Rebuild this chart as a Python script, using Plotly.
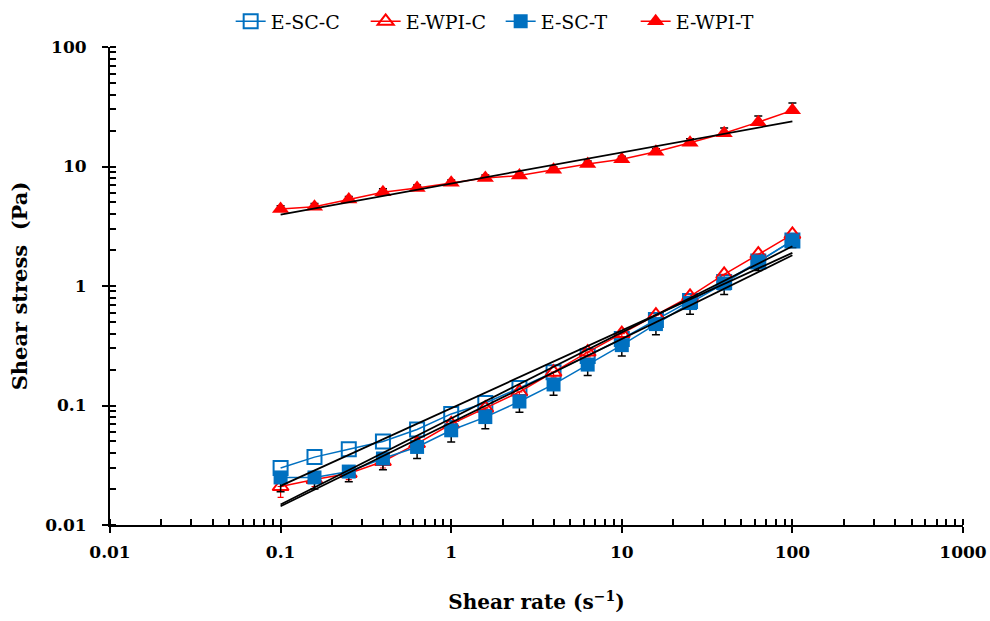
import plotly.graph_objects as go

shear_rate = [0.1, 0.158, 0.251, 0.398, 0.631, 1.0, 1.585, 2.512, 3.981, 6.31,
              10.0, 15.85, 25.12, 39.81, 63.1, 100.0]

e_sc_c = [0.030, 0.037, 0.043, 0.050, 0.063, 0.085, 0.105, 0.14, 0.19, 0.26,
          0.36, 0.52, 0.75, 1.08, 1.6, 2.4]
e_wpi_c = [0.021, 0.024, 0.027, 0.034, 0.048, 0.070, 0.095, 0.13, 0.19, 0.28,
           0.40, 0.57, 0.82, 1.25, 1.85, 2.7]
e_sc_t = [0.025, 0.025, 0.028, 0.036, 0.045, 0.062, 0.080, 0.108, 0.15, 0.22,
          0.32, 0.48, 0.72, 1.05, 1.6, 2.4]
e_wpi_t = [4.4, 4.6, 5.3, 6.1, 6.6, 7.3, 8.0, 8.4, 9.4, 10.5,
           11.5, 13.3, 15.8, 19.0, 23.5, 29.5]

e_sc_t_err = [0.006, 0.005, 0.005, 0.007, 0.009, 0.0125, 0.016, 0.02, 0.028, 0.042,
              0.06, 0.09, 0.14, 0.2, 0.25, 0.3]
e_wpi_c_err = [0.004, 0.003, 0.003, 0.004, 0.005, 0.007, 0.009, 0.012, 0.017, 0.025,
               0.035, 0.05, 0.07, 0.1, 0.15, 0.2]
e_wpi_t_err = [0.3, 0.3, 0.3, 0.4, 0.4, 0.4, 0.5, 0.5, 0.5, 0.6,
               0.7, 0.8, 1.3, 2.0, 3.0, 4.5]

# power-law fits (K, n) and their range
fit_names = ["E-SC-C fit", "E-WPI-C fit", "E-SC-T fit", "E-WPI-T fit"]
fit_K = [0.095, 0.078, 0.072, 7.2]
fit_n = [0.65, 0.72, 0.70, 0.26]
fit_range = [0.1, 100.0]

x_ticks = [0.01, 0.1, 1, 10, 100, 1000]
x_tick_labels = ["0.01", "0.1", "1", "10", "100", "1000"]
y_ticks = [0.01, 0.1, 1, 10, 100]
y_tick_labels = ["0.01", "0.1", "1", "10", "100"]

BLUE = "#0070C0"
RED = "#FF0000"
FONT = "DejaVu Serif"

fig = go.Figure()

fig.add_trace(go.Scatter(
    x=shear_rate, y=e_sc_c, name="E-SC-C", mode="lines+markers",
    line=dict(color=BLUE, width=1.5),
    marker=dict(symbol="square-open", size=14, color=BLUE, line=dict(width=2, color=BLUE)),
))
fig.add_trace(go.Scatter(
    x=shear_rate, y=e_wpi_c, name="E-WPI-C", mode="lines+markers",
    line=dict(color=RED, width=1.5),
    marker=dict(symbol="triangle-up-open", size=14, color=RED, line=dict(width=2, color=RED)),
    error_y=dict(type="data", symmetric=False, array=[0] * len(e_wpi_c_err),
                 arrayminus=e_wpi_c_err, color=RED, thickness=1.2, width=3),
))
fig.add_trace(go.Scatter(
    x=shear_rate, y=e_sc_t, name="E-SC-T", mode="lines+markers",
    line=dict(color=BLUE, width=1.5),
    marker=dict(symbol="square", size=14, color=BLUE, line=dict(width=0)),
    error_y=dict(type="data", symmetric=False, array=[0] * len(e_sc_t_err),
                 arrayminus=e_sc_t_err, color="black", thickness=1.5, width=4),
))
fig.add_trace(go.Scatter(
    x=shear_rate, y=e_wpi_t, name="E-WPI-T", mode="lines+markers",
    line=dict(color=RED, width=1.5),
    marker=dict(symbol="triangle-up", size=15, color=RED, line=dict(width=0)),
    error_y=dict(type="data", symmetric=False, array=e_wpi_t_err,
                 arrayminus=[0] * len(e_wpi_t_err), color="black", thickness=1.5, width=4),
))

for name, K, n in zip(fit_names, fit_K, fit_n):
    fig.add_trace(go.Scatter(
        x=fit_range, y=[K * xv ** n for xv in fit_range], name=name, mode="lines",
        line=dict(color="black", width=1.8), showlegend=False, hoverinfo="skip",
    ))

axis_common = dict(
    type="log", showgrid=False, zeroline=False,
    showline=True, linecolor="black", linewidth=2,
    ticks="outside", ticklen=6, tickwidth=2, tickcolor="black",
    minor=dict(ticks="inside", ticklen=6, tickwidth=1.5, tickcolor="black", dtick="D1", showgrid=False),
    tickfont=dict(family=FONT, size=17, color="black", weight="bold"),
)

fig.update_xaxes(
    **axis_common, range=[-2, 3], tickvals=x_ticks, ticktext=x_tick_labels,
    ticklabelstandoff=5,
    title=dict(text="Shear rate (s<sup>−1</sup>)", standoff=34,
               font=dict(family=FONT, size=20, color="black", weight="bold")),
)
fig.update_yaxes(
    **axis_common, range=[-2, 2], tickvals=y_ticks, ticktext=y_tick_labels,
    ticklabelstandoff=12,
    title=dict(text="Shear stress  (Pa)", standoff=12,
               font=dict(family=FONT, size=21, color="black", weight="bold")),
)

fig.update_layout(
    width=990, height=621,
    margin=dict(l=110, r=27, t=47, b=96, autoexpand=False),
    plot_bgcolor="white", paper_bgcolor="white",
    showlegend=True,
    legend=dict(orientation="h", xref="container", yref="container",
                x=0.233, xanchor="left", y=0.996, yanchor="top",
                font=dict(family=FONT, size=19, color="black"),
                itemwidth=30, entrywidth=90, entrywidthmode="pixels",
                tracegroupgap=0, bgcolor="rgba(0,0,0,0)"),
)

fig.write_html("out.html")
